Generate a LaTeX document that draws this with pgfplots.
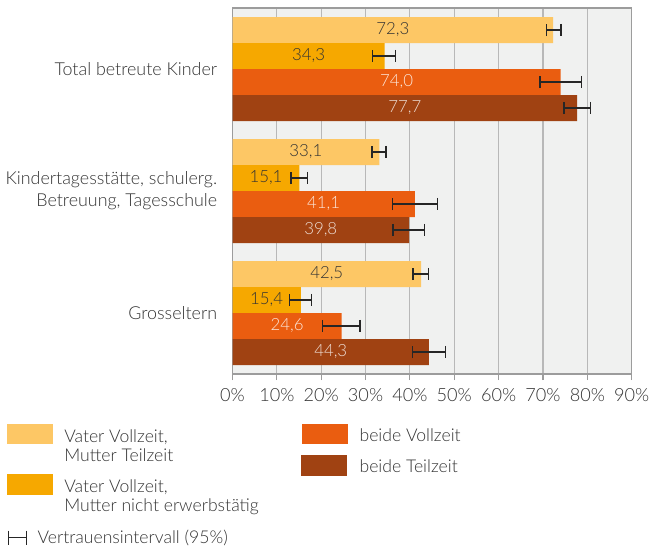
\documentclass[border=0pt]{standalone}
\usepackage{pgfplots}
\pgfplotsset{compat=1.18}
\usepackage{pgfplotstable}
\usepackage{fontspec}
\setmainfont{Lato Light}
\definecolor{c1}{HTML}{FDC765}
\definecolor{c2}{HTML}{F6A800}
\definecolor{c3}{HTML}{EA5D10}
\definecolor{c4}{HTML}{A04212}
\definecolor{bg}{HTML}{F0F1F0}
\definecolor{gridc}{HTML}{B8B8B8}
\definecolor{axc}{HTML}{9C9C9C}
\definecolor{txt}{HTML}{333333}
\newcommand\catfont{\fontsize{13.4}{16.5}\selectfont}
\newcommand\tickfont{\fontsize{13.6}{16}\selectfont}
\newcommand\valfont{\fontsize{12.6}{14}\selectfont}
\newcommand\legfont{\fontsize{13.2}{15}\selectfont}

\pgfplotstableread{
g v ep em lab
-0.3197 72.3 1.8 1.5 72,3
0.6803 33.1 1.5 1.7 33,1
1.6803 42.5 1.7 1.8 42,5
}\tA
\pgfplotstableread{
g v ep em lab
-0.1066 34.3 2.5 2.7 34,3
0.8934 15.1 1.8 1.9 15,1
1.8934 15.4 2.4 2.6 15,4
}\tB
\pgfplotstableread{
g v ep em lab
0.1066 74.0 4.7 4.7 74,0
1.1066 41.1 5.1 5.0 41,1
2.1066 24.6 4.1 4.3 24,6
}\tC
\pgfplotstableread{
g v ep em lab
0.3197 77.7 3.0 3.0 77,7
1.3197 39.8 3.5 3.6 39,8
2.3197 44.3 3.7 3.7 44,3
}\tD

\begin{document}
\begin{tikzpicture}[x=0.75pt, y=-0.75pt]
\useasboundingbox (0,0) rectangle (649,549);
\begin{axis}[
  at={(174.375pt,-280.5pt)}, anchor=south west,
  scale only axis, width=299.4pt, height=274.5pt,
  xmin=0, xmax=90, ymin=-0.5, ymax=2.5, y dir=reverse,
  xtick={0,10,...,90},
  xticklabel={\pgfmathprintnumber{\tick}\%},
  /pgf/number format/assume math mode=true,
  xtick pos=bottom, tick align=outside,
  major tick length=4.5pt,
  x tick style={axc, line width=0.8pt},
  xticklabel style={font=\tickfont, text=txt, yshift=-3pt},
  ytick={0,1,2},
  yticklabels={Total betreute Kinder, {Kindertagesstätte, schulerg.\\Betreuung, Tagesschule}, Grosseltern},
  yticklabel style={align=right, font=\catfont, text=txt, xshift=-3.5pt},
  y tick style={draw=none},
  xmajorgrids, grid style={gridc, line width=0.8pt},
  axis background/.style={fill=bg},
  axis line style={axc, line width=1.1pt},
  error bars/error mark=|,
  error bars/error bar style={line width=1.1pt, black!85},
  error bars/error mark options={line width=1.1pt, mark size=4.6pt, black!85},
]
\addplot[xbar, bar shift=0pt, bar width=0.2131, fill=c1, draw=none,
  error bars/.cd, x dir=both, x explicit]
  table[x=v, y=g, x error plus=ep, x error minus=em] {\tA};
\addplot[xbar, bar shift=0pt, bar width=0.2131, fill=c2, draw=none,
  error bars/.cd, x dir=both, x explicit]
  table[x=v, y=g, x error plus=ep, x error minus=em] {\tB};
\addplot[xbar, bar shift=0pt, bar width=0.2131, fill=c3, draw=none,
  error bars/.cd, x dir=both, x explicit]
  table[x=v, y=g, x error plus=ep, x error minus=em] {\tC};
\addplot[xbar, bar shift=0pt, bar width=0.2131, fill=c4, draw=none,
  error bars/.cd, x dir=both, x explicit]
  table[x=v, y=g, x error plus=ep, x error minus=em] {\tD};

\addplot[draw=none, no markers, nodes near coords, point meta=explicit symbolic,
  nodes near coords style={anchor=center, font=\valfont, text=txt}]
  table[x expr=\thisrow{v}/2, y=g, meta=lab] {\tA};
\addplot[draw=none, no markers, nodes near coords, point meta=explicit symbolic,
  nodes near coords style={anchor=center, font=\valfont, text=txt}]
  table[x expr=\thisrow{v}/2, y=g, meta=lab] {\tB};
\addplot[draw=none, no markers, nodes near coords, point meta=explicit symbolic,
  nodes near coords style={anchor=center, font=\valfont, text=white!85!c3}]
  table[x expr=\thisrow{v}/2, y=g, meta=lab] {\tC};
\addplot[draw=none, no markers, nodes near coords, point meta=explicit symbolic,
  nodes near coords style={anchor=center, font=\valfont, text=white!82!c4}]
  table[x expr=\thisrow{v}/2, y=g, meta=lab] {\tD};
\end{axis}

% legend
\fill[c1] (7.3,424.3) rectangle (52.7,444.3);
\fill[c2] (7.3,474.3) rectangle (52.7,495);
\fill[c3] (302.3,424.3) rectangle (347.7,444.3);
\fill[c4] (301,455) rectangle (346.7,475.7);
\begin{scope}[every node/.style={font=\legfont, text=txt, anchor=base west, inner sep=0pt}]
\node at (64,442.8) {Vater Vollzeit,};
\node at (64,461.6) {Mutter Teilzeit};
\node at (64,492.3) {Vater Vollzeit,};
\node at (64,511.4) {Mutter nicht erwerbstätig};
\node at (359.3,441.7) {beide Vollzeit};
\node at (359.3,472.3) {beide Teilzeit};
\node at (37.3,543.8) {Vertrauensintervall (95\%)};
\end{scope}
\draw[black!85, line width=1.1pt] (8.6,537.7) -- (26.4,537.7);
\draw[black!85, line width=1.1pt] (8.6,530.5) -- (8.6,545);
\draw[black!85, line width=1.1pt] (26.4,530.5) -- (26.4,545);
\end{tikzpicture}
\end{document}
